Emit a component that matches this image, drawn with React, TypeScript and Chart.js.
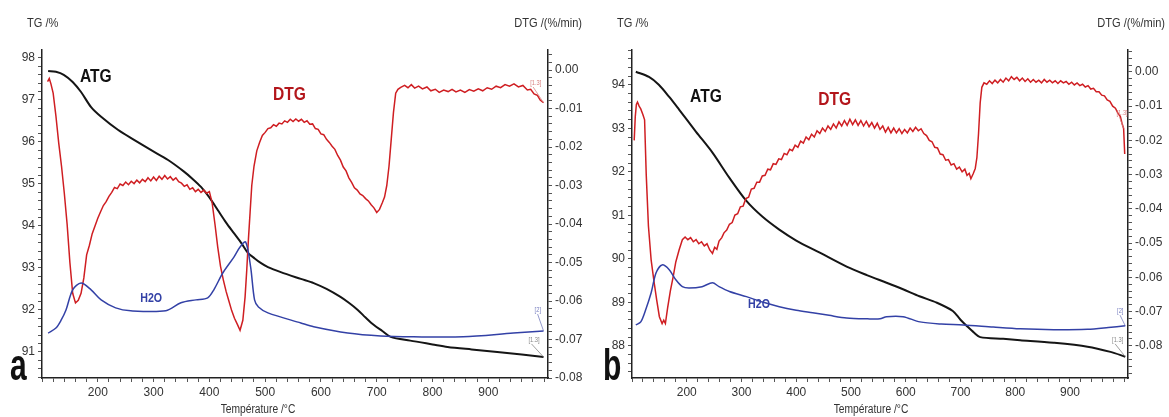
import React, { useEffect, useRef } from "react";
import { Chart, registerables } from "chart.js";
Chart.register(...registerables);

const FONT = "'Liberation Sans', Arial, sans-serif";

// ---------- Panel a ----------
const tempA_ATG = [111,125,139,155,170,188,206,236,265,295,326,354,370,385,400,415,430,444,458,469,480,492,505,528,564,587,610,635,650,666,680,695,710,725,760,800,827,870,916,960,999];
const atgA = [97.69,97.67,97.6,97.43,97.19,96.83,96.6,96.29,96.05,95.81,95.57,95.3,95.12,94.93,94.68,94.38,94.08,93.83,93.58,93.36,93.24,93.12,93.02,92.9,92.74,92.64,92.5,92.31,92.17,92.0,91.82,91.64,91.5,91.36,91.27,91.18,91.12,91.06,91.0,90.94,90.88];

const tempA_DTG = [110,113,116,120,125,130,135,140,145,150,155,160,165,170,175,180,185,190,195,200,205,210,215,220,225,230,235,240,245,250,255,260,265,270,275,280,285,290,295,300,305,310,315,320,325,330,335,340,345,350,355,360,365,370,375,380,385,390,395,400,405,410,415,420,425,430,435,440,445,450,455,460,464,467,470,473,476,480,485,490,495,500,505,510,515,520,525,530,535,540,545,550,555,560,565,570,575,580,585,590,595,600,605,610,615,620,625,630,635,640,645,650,655,660,665,670,675,680,685,690,695,700,705,710,714,718,722,726,730,734,738,743,750,756,762,768,775,782,790,797,805,812,820,828,835,842,850,858,866,874,882,890,898,906,914,922,930,938,946,954,962,970,976,982,988,993,999];
const dtgA = [-0.0030,-0.0022,-0.0036,-0.0060,-0.0120,-0.0190,-0.0250,-0.0320,-0.0400,-0.0500,-0.0580,-0.0605,-0.0598,-0.0580,-0.0540,-0.0480,-0.0455,-0.0425,-0.0405,-0.0385,-0.0368,-0.0352,-0.0342,-0.0328,-0.0318,-0.0305,-0.0308,-0.0296,-0.0300,-0.0291,-0.0298,-0.0289,-0.0295,-0.0286,-0.0293,-0.0284,-0.0290,-0.0280,-0.0288,-0.0278,-0.0287,-0.0276,-0.0284,-0.0274,-0.0283,-0.0277,-0.0286,-0.0280,-0.0290,-0.0294,-0.0302,-0.0298,-0.0310,-0.0306,-0.0316,-0.0310,-0.0318,-0.0312,-0.0320,-0.0316,-0.0345,-0.0400,-0.0460,-0.0510,-0.0545,-0.0575,-0.0600,-0.0625,-0.0645,-0.0660,-0.0676,-0.0650,-0.0590,-0.0520,-0.0440,-0.0370,-0.0300,-0.0250,-0.0210,-0.0188,-0.0170,-0.0162,-0.0152,-0.0150,-0.0142,-0.0146,-0.0138,-0.0140,-0.0132,-0.0136,-0.0128,-0.0134,-0.0127,-0.0133,-0.0128,-0.0136,-0.0132,-0.0141,-0.0140,-0.0152,-0.0154,-0.0166,-0.0168,-0.0180,-0.0188,-0.0198,-0.0206,-0.0222,-0.0234,-0.0252,-0.0262,-0.0280,-0.0292,-0.0306,-0.0312,-0.0322,-0.0326,-0.0334,-0.0340,-0.0350,-0.0358,-0.0370,-0.0362,-0.0345,-0.0330,-0.0300,-0.0250,-0.0180,-0.0110,-0.0060,-0.0050,-0.0045,-0.0040,-0.0046,-0.0038,-0.0047,-0.0042,-0.0049,-0.0044,-0.0054,-0.0050,-0.0058,-0.0052,-0.0056,-0.0050,-0.0057,-0.0052,-0.0058,-0.0051,-0.0055,-0.0049,-0.0054,-0.0046,-0.0050,-0.0042,-0.0046,-0.0038,-0.0042,-0.0036,-0.0044,-0.0040,-0.0052,-0.0050,-0.0062,-0.0066,-0.0078,-0.0085];

const tempA_H2O = [111,125,134,143,155,170,188,206,232,259,322,349,376,397,408,424,444,455,465,474,481,488,505,564,587,648,707,766,855,945,999];
const h2oA = [91.45,91.57,91.75,92.0,92.48,92.64,92.48,92.24,92.05,91.98,91.98,92.17,92.24,92.29,92.48,92.88,93.26,93.5,93.62,93.02,92.24,92.07,91.93,91.69,91.6,91.45,91.38,91.36,91.36,91.45,91.5];

// ---------- Panel b ----------
const tempB_ATG = [107,131,149,168,186,217,247,278,309,338,369,400,443,492,530,565,595,625,657,686,700,712,725,736,778,809,870,932,974,1001];
const atgB = [94.3,94.18,94.0,93.72,93.43,92.92,92.44,91.86,91.33,90.97,90.67,90.42,90.14,89.82,89.62,89.45,89.3,89.14,88.99,88.8,88.6,88.45,88.3,88.2,88.16,88.13,88.07,87.98,87.86,87.75];

const tempB_DTG = [104,106,108,110,113,116,120,123,126,130,135,140,145,150,155,158,161,165,170,175,180,186,192,197,202,207,212,217,222,227,232,237,242,247,251,255,259,264,268,273,278,283,288,293,298,303,308,313,318,323,328,333,338,343,348,353,358,363,368,373,378,383,388,393,398,403,408,413,418,423,428,433,438,443,448,453,458,463,468,473,478,483,488,493,498,503,508,513,518,523,528,533,538,543,548,553,558,563,568,573,578,583,588,593,598,603,608,613,618,623,628,633,638,643,648,653,658,663,668,673,678,683,688,693,698,703,708,712,716,719,723,727,730,733,736,739,743,748,753,758,763,768,773,778,783,788,793,798,803,808,813,818,823,828,833,838,843,848,853,858,863,868,873,878,883,888,893,898,903,908,913,918,923,928,933,938,943,948,953,958,963,968,973,978,983,988,992,995,998,1000];
const dtgB = [-0.0200,-0.0130,-0.0095,-0.0088,-0.0100,-0.0108,-0.0125,-0.0140,-0.0300,-0.0450,-0.0550,-0.0610,-0.0665,-0.0715,-0.0735,-0.0725,-0.0735,-0.0690,-0.0640,-0.0600,-0.0555,-0.0520,-0.0490,-0.0482,-0.0490,-0.0484,-0.0496,-0.0490,-0.0502,-0.0496,-0.0508,-0.0502,-0.0520,-0.0530,-0.0512,-0.0518,-0.0494,-0.0484,-0.0470,-0.0462,-0.0445,-0.0440,-0.0418,-0.0414,-0.0394,-0.0392,-0.0370,-0.0366,-0.0342,-0.0340,-0.0322,-0.0322,-0.0304,-0.0302,-0.0284,-0.0286,-0.0268,-0.0270,-0.0254,-0.0256,-0.0238,-0.0242,-0.0226,-0.0230,-0.0214,-0.0220,-0.0202,-0.0208,-0.0190,-0.0198,-0.0182,-0.0190,-0.0172,-0.0180,-0.0164,-0.0174,-0.0158,-0.0168,-0.0152,-0.0164,-0.0146,-0.0158,-0.0142,-0.0156,-0.0138,-0.0154,-0.0140,-0.0156,-0.0142,-0.0158,-0.0144,-0.0160,-0.0148,-0.0164,-0.0150,-0.0168,-0.0158,-0.0176,-0.0162,-0.0178,-0.0164,-0.0178,-0.0166,-0.0180,-0.0168,-0.0178,-0.0164,-0.0174,-0.0162,-0.0172,-0.0166,-0.0180,-0.0186,-0.0200,-0.0204,-0.0220,-0.0222,-0.0240,-0.0242,-0.0258,-0.0256,-0.0272,-0.0268,-0.0284,-0.0278,-0.0292,-0.0284,-0.0302,-0.0296,-0.0312,-0.0298,-0.0282,-0.0250,-0.0180,-0.0090,-0.0045,-0.0032,-0.0036,-0.0026,-0.0034,-0.0024,-0.0032,-0.0022,-0.0030,-0.0018,-0.0026,-0.0014,-0.0022,-0.0016,-0.0026,-0.0018,-0.0028,-0.0020,-0.0030,-0.0022,-0.0030,-0.0024,-0.0032,-0.0022,-0.0030,-0.0024,-0.0032,-0.0026,-0.0034,-0.0026,-0.0032,-0.0028,-0.0036,-0.0030,-0.0038,-0.0032,-0.0040,-0.0036,-0.0044,-0.0040,-0.0050,-0.0048,-0.0058,-0.0058,-0.0068,-0.0070,-0.0082,-0.0086,-0.0100,-0.0106,-0.0122,-0.0130,-0.0150,-0.0165,-0.0240];

const tempB_H2O = [107,116,125,135,144,155,168,180,192,204,228,247,259,278,309,340,369,400,430,460,492,530,553,565,595,626,665,705,760,809,870,932,970,1001];
const h2oB = [88.48,88.55,88.83,89.22,89.68,89.86,89.75,89.52,89.36,89.33,89.36,89.45,89.36,89.25,89.13,89.0,88.9,88.82,88.76,88.7,88.64,88.62,88.62,88.67,88.67,88.55,88.5,88.48,88.43,88.39,88.37,88.38,88.42,88.46];

const xTickLabels = [200, 300, 400, 500, 600, 700, 800, 900];

const BLACK = "#151515";
const RED = "#cf1e22";
const BLUE = "#3341a6";

type TextLabel = { text: string; t: number; v: number; axis: "y" | "y2"; color: string; font: string };
type SmallLabel = { text: string; t: number; v: number; axis: "y" | "y2"; color: string; toT: number; toV: number };

type Panel = {
  letter: string;
  letterX: number;
  width: number;
  rightW: number;
  headerRight: number;
  titleX: number;
  yMin: number; yMax: number;
  y2Min: number; y2Max: number;
  xMin: number; xMax: number;
  atg: { x: number; y: number }[];
  dtg: { x: number; y: number }[];
  h2o: { x: number; y: number }[];
  labels: TextLabel[];
  small: SmallLabel[];
};

const pts = (t: number[], v: number[]) => t.map((x, i) => ({ x, y: v[i] }));

const BIG = `bold 19px ${FONT}`;
const MID = `bold 13px ${FONT}`;
const NARROW = 0.82;

const panelA: Panel = {
  letter: "a", letterX: 10, width: 590, rightW: 42, headerRight: 582, titleX: 258,
  yMin: 90.38, yMax: 98.19, y2Min: -0.08, y2Max: 0.0052, xMin: 100, xMax: 1007,
  atg: pts(tempA_ATG, atgA), dtg: pts(tempA_DTG, dtgA), h2o: pts(tempA_H2O, h2oA),
  labels: [
    { text: "ATG", t: 168, v: 97.43, axis: "y", color: "#111", font: BIG },
    { text: "DTG", t: 514, v: 97.0, axis: "y", color: "#b3161b", font: BIG },
    { text: "H2O", t: 276, v: 92.19, axis: "y", color: BLUE, font: MID },
  ],
  small: [
    { text: "[1.3]", t: 975, v: -0.0039, axis: "y2", color: "#d98080", toT: 999, toV: -0.0085 },
    { text: "[2]", t: 983, v: 91.95, axis: "y", color: "#7a80c0", toT: 999, toV: 91.5 },
    { text: "[1.3]", t: 972, v: 91.24, axis: "y", color: "#888", toT: 999, toV: 90.88 },
  ],
};

const panelB: Panel = {
  letter: "b", letterX: 13, width: 579, rightW: 41, headerRight: 575, titleX: 281,
  yMin: 87.26, yMax: 94.8, y2Min: -0.0894, y2Max: 0.0064, xMin: 100, xMax: 1006,
  atg: pts(tempB_ATG, atgB), dtg: pts(tempB_DTG, dtgB), h2o: pts(tempB_H2O, h2oB),
  labels: [
    { text: "ATG", t: 206, v: 93.6, axis: "y", color: "#111", font: BIG },
    { text: "DTG", t: 440, v: 93.54, axis: "y", color: "#b3161b", font: BIG },
    { text: "H2O", t: 312, v: 88.86, axis: "y", color: BLUE, font: MID },
  ],
  small: [
    { text: "[1.3]", t: 985, v: -0.0126, axis: "y2", color: "#d98080", toT: 998, toV: -0.0165 },
    { text: "[2]", t: 986, v: 88.75, axis: "y", color: "#7a80c0", toT: 1001, toV: 88.46 },
    { text: "[1.3]", t: 977, v: 88.09, axis: "y", color: "#888", toT: 1001, toV: 87.75 },
  ],
};

function narrowText(ctx: CanvasRenderingContext2D, text: string, x: number, y: number, align: "left" | "right" | "center", sx = NARROW, sy = 1) {
  ctx.save();
  ctx.translate(x, y);
  ctx.scale(sx, sy);
  ctx.textAlign = align;
  ctx.fillText(text, 0, 0);
  ctx.restore();
}

function makeChart(canvas: HTMLCanvasElement, p: Panel) {
  const annot = {
    id: "annot",
    afterDraw(chart: any) {
      const { ctx, scales } = chart;
      ctx.save();
      ctx.fillStyle = "#333";
      ctx.textBaseline = "alphabetic";
      ctx.font = `13.5px ${FONT}`;
      narrowText(ctx, "TG /%", 27, 27, "left");
      narrowText(ctx, "DTG /(%/min)", p.headerRight, 27, "right");
      ctx.font = `12.5px ${FONT}`;
      narrowText(ctx, "Température /°C", p.titleX, 413, "center");

      ctx.font = `bold 30px ${FONT}`;
      ctx.fillStyle = "#111";
      narrowText(ctx, p.letter, p.letterX, 380, "left", 1.0, 1.5);

      for (const l of p.labels) {
        const x = scales.x.getPixelForValue(l.t);
        const y = scales[l.axis].getPixelForValue(l.v);
        ctx.font = l.font;
        ctx.fillStyle = l.color;
        narrowText(ctx, l.text, x, y, "left");
      }
      for (const s of p.small) {
        const x = scales.x.getPixelForValue(s.t);
        const y = scales[s.axis].getPixelForValue(s.v);
        const x2 = scales.x.getPixelForValue(s.toT);
        const y2 = scales[s.axis].getPixelForValue(s.toV);
        ctx.font = `7px ${FONT}`;
        ctx.fillStyle = s.color;
        narrowText(ctx, s.text, x, y, "left");
        ctx.strokeStyle = s.color;
        ctx.lineWidth = 0.8;
        ctx.beginPath();
        ctx.moveTo(x + 3, y + 2);
        ctx.lineTo(x2, y2);
        ctx.stroke();
      }
      ctx.restore();
    },
  };

  const tickFont = { family: FONT, size: 12 };
  const grid = { display: true, drawOnChartArea: false, drawTicks: true, tickLength: 4, color: "#555", lineWidth: 1 };
  const border = { display: true, color: "#222", width: 1.5 };

  return new Chart(canvas, {
    type: "line",
    data: {
      datasets: [
        { label: "H2O", data: p.h2o, yAxisID: "y", borderColor: BLUE, borderWidth: 1.5, pointRadius: 0, tension: 0.3, fill: false },
        { label: "DTG", data: p.dtg, yAxisID: "y2", borderColor: RED, borderWidth: 1.5, pointRadius: 0, tension: 0, fill: false },
        { label: "ATG", data: p.atg, yAxisID: "y", borderColor: BLACK, borderWidth: 2, pointRadius: 0, tension: 0.3, fill: false },
      ],
    },
    options: {
      responsive: false,
      animation: false,
      devicePixelRatio: 1,
      layout: { padding: { top: 50, left: 0, right: 0, bottom: 0 } },
      plugins: { legend: { display: false }, tooltip: { enabled: false } },
      scales: {
        x: {
          type: "linear",
          min: p.xMin,
          max: p.xMax,
          afterFit: (s: any) => { s.height = 39; },
          ticks: {
            stepSize: 20,
            autoSkip: false,
            maxRotation: 0,
            includeBounds: false,
            color: "#333",
            font: tickFont,
            padding: 3,
            callback: (v: any) => {
              const r = Math.round(Number(v));
              return Math.abs(Number(v) - r) < 1e-6 && xTickLabels.includes(r) ? String(r) : "";
            },
          },
          grid,
          border,
        },
        y: {
          type: "linear",
          position: "left",
          min: p.yMin,
          max: p.yMax,
          afterFit: (s: any) => { s.width = 42; },
          ticks: {
            stepSize: 0.2,
            autoSkip: false,
            includeBounds: false,
            color: "#333",
            font: tickFont,
            padding: 3,
            callback: (v: any) => {
              const n = Number(v);
              return Math.abs(n - Math.round(n)) < 1e-6 ? String(Math.round(n)) : "";
            },
          },
          grid,
          border,
        },
        y2: {
          type: "linear",
          position: "right",
          min: p.y2Min,
          max: p.y2Max,
          afterFit: (s: any) => { s.width = p.rightW; },
          ticks: {
            stepSize: 0.002,
            autoSkip: false,
            includeBounds: false,
            color: "#333",
            font: tickFont,
            padding: 3,
            callback: (v: any) => {
              const n = Number(v) * 100;
              return Math.abs(n - Math.round(n)) < 1e-6 ? (Math.round(n) / 100).toFixed(2) : "";
            },
          },
          grid,
          border,
        },
      },
    },
    plugins: [annot],
  } as any);
}

export default function App() {
  const refA = useRef<HTMLCanvasElement>(null);
  const refB = useRef<HTMLCanvasElement>(null);

  useEffect(() => {
    const ca = makeChart(refA.current!, panelA);
    const cb = makeChart(refB.current!, panelB);
    return () => {
      ca.destroy();
      cb.destroy();
    };
  }, []);

  return (
    <div style={{ position: "fixed", left: 0, top: 0, width: 1169, height: 417, background: "#fff" }}>
      <canvas ref={refA} width={590} height={417} style={{ position: "absolute", left: 0, top: 0, width: 590, height: 417 }} />
      <canvas ref={refB} width={579} height={417} style={{ position: "absolute", left: 590, top: 0, width: 579, height: 417 }} />
    </div>
  );
}
